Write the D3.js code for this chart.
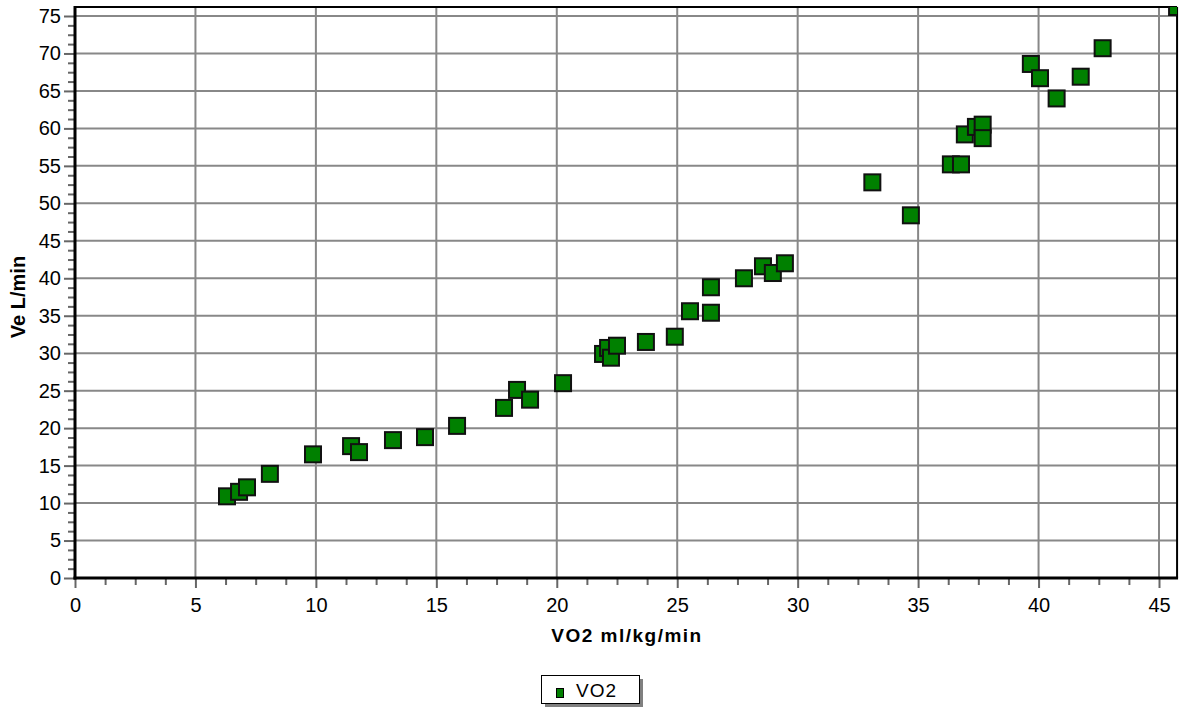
<!DOCTYPE html>
<html>
<head>
<meta charset="utf-8">
<script src="https://cdn.jsdelivr.net/npm/d3@7/dist/d3.min.js"></script>
<style>
  html, body { margin: 0; padding: 0; background: #fff; }
  svg { display: block; font-family: "Liberation Sans", Arial, sans-serif; }
</style>
</head>
<body>
<svg id="chart" width="1180" height="715"></svg>
<script>
// Oxygen uptake vs. minute ventilation
const vo2 = [6.31, 6.81, 7.14, 8.09, 9.88, 11.46, 11.79, 13.2, 14.53, 15.86,
             17.81, 18.35, 18.89, 20.26, 21.92, 22.13, 22.25, 22.5, 23.7, 24.9,
             25.53, 26.4, 26.4, 27.77, 28.56, 28.97, 29.47, 33.1, 34.7, 36.36,
             36.78, 36.94, 37.4, 37.68, 37.68, 39.68, 40.06, 40.75, 41.75, 42.66, 45.75];
const ve  = [10.9, 11.5, 12.1, 13.9, 16.5, 17.6, 16.8, 18.4, 18.8, 20.3,
             22.7, 25.1, 23.8, 26.0, 29.9, 30.7, 29.4, 31.0, 31.5, 32.2,
             35.6, 38.8, 35.4, 40.0, 41.6, 40.7, 42.0, 52.8, 48.4, 55.2,
             55.2, 59.2, 60.2, 60.5, 58.7, 68.6, 66.7, 64.0, 66.9, 70.7, 76.2];
const xTicks = [0, 5, 10, 15, 20, 25, 30, 35, 40, 45];
const yTicks = [0, 5, 10, 15, 20, 25, 30, 35, 40, 45, 50, 55, 60, 65, 70, 75];
const xMax = 45.75, yMax = 76.2;
const xTitle = "VO2 ml/kg/min";
const yTitle = "Ve L/min";
const seriesName = "VO2";

const svg = d3.select("#chart");
const pLeft = 75, pRight = 75 + xMax * (1084 / 45), pTop = 578 - yMax * (562 / 75), pBottom = 578;

const x = d3.scaleLinear().domain([0, xMax]).range([pLeft, pRight]);
const y = d3.scaleLinear().domain([0, yMax]).range([pBottom, pTop]);

// minor ticks every 1.25 units
const xMinor = d3.range(0, xMax + 0.001, 1.25).filter(v => Math.abs(v % 5) > 1e-6);
const yMinor = d3.range(0, yMax + 0.001, 1.25).filter(v => Math.abs(v % 5) > 1e-6);

// grid
const grid = svg.append("g");
grid.selectAll(".gx").data(xTicks.filter(d => d > 0)).join("line")
  .attr("x1", d => x(d)).attr("x2", d => x(d))
  .attr("y1", pTop).attr("y2", pBottom)
  .attr("stroke", "#888").attr("stroke-width", 2);
grid.selectAll(".gy").data(yTicks.filter(d => d > 0)).join("line")
  .attr("x1", pLeft).attr("x2", pRight)
  .attr("y1", d => y(d)).attr("y2", d => y(d))
  .attr("stroke", "#888").attr("stroke-width", 2);

// axes with tick marks
const xAxis = svg.append("g").attr("transform", `translate(0,${pBottom})`)
  .call(d3.axisBottom(x).tickValues(xTicks).tickSize(10).tickPadding(10).tickFormat(d3.format("d")));
const xMinorAxis = svg.append("g").attr("transform", `translate(0,${pBottom})`)
  .call(d3.axisBottom(x).tickValues(xMinor).tickSize(7).tickFormat(""));
const yAxis = svg.append("g").attr("transform", `translate(${pLeft},0)`)
  .call(d3.axisLeft(y).tickValues(yTicks).tickSize(11).tickPadding(3).tickFormat(d3.format("d")));
const yMinorAxis = svg.append("g").attr("transform", `translate(${pLeft},0)`)
  .call(d3.axisLeft(y).tickValues(yMinor).tickSize(7).tickFormat(""));

[xAxis, xMinorAxis, yAxis, yMinorAxis].forEach(g => {
  g.select(".domain").remove();
  g.selectAll(".tick line").attr("stroke", "#666").attr("stroke-width", 2);
  g.selectAll(".tick text").attr("font-size", 20).attr("fill", "#000")
    .attr("font-family", "'Liberation Sans', Arial, sans-serif");
});

// plot frame
svg.append("line").attr("x1", pLeft).attr("x2", pRight).attr("y1", pTop).attr("y2", pTop)
  .attr("stroke", "#000").attr("stroke-width", 2);
svg.append("line").attr("x1", pRight).attr("x2", pRight).attr("y1", pTop).attr("y2", pBottom)
  .attr("stroke", "#000").attr("stroke-width", 2);
svg.append("line").attr("x1", pLeft).attr("x2", pLeft).attr("y1", pTop - 1).attr("y2", pBottom + 1.5)
  .attr("stroke", "#000").attr("stroke-width", 3);
svg.append("line").attr("x1", pLeft - 1.5).attr("x2", pRight + 1).attr("y1", pBottom).attr("y2", pBottom)
  .attr("stroke", "#000").attr("stroke-width", 3);

// data markers, clipped to plot area
svg.append("clipPath").attr("id", "plotclip").append("rect")
  .attr("x", pLeft).attr("y", pTop).attr("width", pRight - pLeft).attr("height", pBottom - pTop);
const pts = vo2.map((v, i) => ({ x: v, y: ve[i] }));
const s = 16;
svg.append("g").attr("clip-path", "url(#plotclip)")
  .selectAll("rect").data(pts).join("rect")
  .attr("x", d => x(d.x) - s / 2).attr("y", d => y(d.y) - s / 2)
  .attr("width", s).attr("height", s)
  .attr("fill", "#008000").attr("stroke", "#111").attr("stroke-width", 2);

// axis titles
svg.append("text").attr("x", 627).attr("y", 642)
  .attr("text-anchor", "middle").attr("font-size", 19).attr("font-weight", "bold")
  .attr("letter-spacing", 1.5)
  .text(xTitle);
svg.append("text").attr("transform", `translate(25,297) rotate(-90)`)
  .attr("text-anchor", "middle").attr("font-size", 20).attr("font-weight", "bold")
  .text(yTitle);

// legend
const lg = svg.append("g").attr("transform", "translate(541,675)");
lg.append("rect").attr("x", 4).attr("y", 4).attr("width", 98).attr("height", 28).attr("fill", "#808080");
lg.append("rect").attr("x", 0.5).attr("y", 0.5).attr("width", 98).attr("height", 28)
  .attr("fill", "#fff").attr("stroke", "#000").attr("stroke-width", 1);
lg.append("rect").attr("x", 15.5).attr("y", 13.5).attr("width", 7).attr("height", 9)
  .attr("fill", "#008000").attr("stroke", "#000").attr("stroke-width", 1);
lg.append("text").attr("x", 35).attr("y", 22).attr("font-size", 19).attr("letter-spacing", 1)
  .text(seriesName);
</script>
</body>
</html>
